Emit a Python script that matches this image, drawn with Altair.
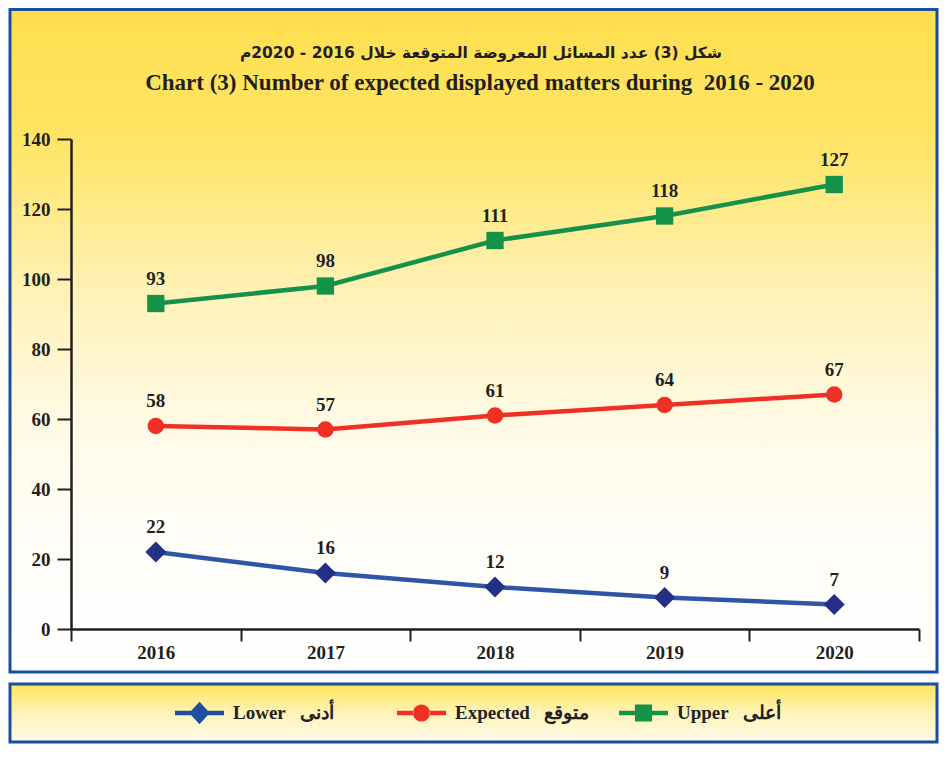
import altair as alt
import pandas as pd

# ---------------- data ----------------
years = ["2016", "2017", "2018", "2019", "2020"]
series = ["Lower", "Expected", "Upper"]
series_ar = ["أدنى", "متوقع", "أعلى"]
lower = [22, 16, 12, 9, 7]
expected = [58, 57, 61, 64, 67]
upper = [93, 98, 111, 118, 127]
y_ticks = [0, 20, 40, 60, 80, 100, 120, 140]

title_ar = "شكل (3) عدد المسائل المعروضة المتوقعة خلال 2016 - 2020م"
title_en = "Chart (3) Number of expected displayed matters during\u00a0\u00a02016 - 2020"

line_colors = ["#2f55a6", "#ee3124", "#14924a"]
marker_colors = ["#243086", "#ee3124", "#14924a"]
legend_colors = ["#1d4f9f", "#ee3124", "#14924a"]
marker_shapes = ["diamond", "circle", "square"]
marker_sizes = [441, 272, 300]

rows = []
for s, vals in zip(series, [lower, expected, upper]):
    for yr, v in zip(years, vals):
        rows.append({"year": yr, "series": s, "value": v})
df = pd.DataFrame(rows)

nb = "\u00a0\u00a0\u00a0"
leg_df = pd.DataFrame({"series": series, "label": [f"{s}{nb}{a}" for s, a in zip(series, series_ar)]})

INK = "#231f20"
SERIF = "Liberation Serif"
W, H = 848, 490

# ---------------- background panels ----------------
main_grad = alt.LinearGradient(
    gradient="linear", x1=0, x2=0, y1=0, y2=1,
    stops=[
        alt.GradientStop(color="#ffdf4e", offset=0),
        alt.GradientStop(color="#ffe566", offset=0.2),
        alt.GradientStop(color="#fff3bf", offset=0.45),
        alt.GradientStop(color="#fffbea", offset=0.65),
        alt.GradientStop(color="#fffefb", offset=0.85),
        alt.GradientStop(color="#ffffff", offset=1),
    ],
)
leg_grad = alt.LinearGradient(
    gradient="linear", x1=0, x2=0, y1=0, y2=1,
    stops=[
        alt.GradientStop(color="#ffe35a", offset=0),
        alt.GradientStop(color="#fff3b8", offset=0.5),
        alt.GradientStop(color="#fffbe8", offset=1),
    ],
)
one = alt.Data(values=[{}])
bg_main = alt.Chart(one).mark_rect(fill=main_grad, stroke="#1b4f9c", strokeWidth=3).encode(
    x=alt.value(-61), x2=alt.value(866), y=alt.value(-129.5), y2=alt.value(533)
)
bg_leg = alt.Chart(one).mark_rect(fill=leg_grad, stroke="#1b4f9c", strokeWidth=3).encode(
    x=alt.value(-61), x2=alt.value(866), y=alt.value(545), y2=alt.value(603)
)

# ---------------- titles ----------------
t_ar = alt.Chart(alt.Data(values=[{"t": "\u202b" + title_ar + "\u202c"}])).mark_text(
    font="DejaVu Sans", fontSize=15.5, fontWeight="bold", color=INK, align="center", baseline="middle"
).encode(text="t:N", x=alt.value(410), y=alt.value(-86))
t_en = alt.Chart(alt.Data(values=[{"t": title_en}])).mark_text(
    font=SERIF, fontSize=23, fontWeight="bold", color=INK, align="center", baseline="middle"
).encode(text="t:N", x=alt.value(409), y=alt.value(-56))

# ---------------- main chart ----------------
x_enc = alt.X(
    "year:N", sort=years,
    scale=alt.Scale(type="band", paddingInner=0, paddingOuter=0),
    axis=alt.Axis(
        title=None, labelAngle=0, tickBand="extent", tickSize=12, tickWidth=2,
        domainWidth=2.5, domainColor=INK, tickColor=INK, labelFont=SERIF,
        labelFontSize=19, labelFontWeight="bold", labelColor=INK, labelPadding=2,
        grid=False, zindex=2,
    ),
)
y_enc = alt.Y(
    "value:Q",
    scale=alt.Scale(domain=[0, 140], nice=False),
    axis=alt.Axis(
        values=y_ticks, title=None, tickSize=14, tickWidth=2, domainWidth=2.5,
        domainColor=INK, tickColor=INK, labelFont=SERIF, labelFontSize=19,
        labelFontWeight="bold", labelColor=INK, labelPadding=7, grid=False, zindex=2,
    ),
)

base = alt.Chart(df)
lines = base.mark_line(strokeWidth=4.5).encode(
    x=x_enc, y=y_enc,
    stroke=alt.Stroke("series:N", scale=alt.Scale(domain=series, range=line_colors), legend=None),
)

marker_layers = []
for s, shp, col, sz in zip(series, marker_shapes, marker_colors, marker_sizes):
    marker_layers.append(
        base.transform_filter(alt.datum.series == s)
        .mark_point(shape=shp, filled=True, fill=col, size=sz, opacity=1, strokeWidth=0)
        .encode(x=x_enc, y=y_enc)
    )

labels = base.mark_text(
    dy=-25, font=SERIF, fontSize=19, fontWeight="bold", color=INK, baseline="middle"
).encode(x=x_enc, y=y_enc, text="value:Q")

main = alt.layer(lines, *marker_layers, labels)

# ---------------- legend (drawn with marks: line-through-marker symbols + labels) ----------------
p_dia = ("M-1,-0.09L-0.3,-0.09L-0.3,0.09L-1,0.09Z M0.3,-0.09L1,-0.09L1,0.09L0.3,0.09Z "
         "M-0.42,0L0,-0.46L0.42,0L0,0.46Z")
p_cir = ("M-1,-0.09L-0.33,-0.09L-0.33,0.09L-1,0.09Z M0.33,-0.09L1,-0.09L1,0.09L0.33,0.09Z "
         "M-0.35,0A0.35,0.35 0 1,0 0.35,0A0.35,0.35 0 1,0 -0.35,0Z")
p_sq = ("M-1,-0.09L-0.35,-0.09L-0.35,0.09L-1,0.09Z M0.35,-0.09L1,-0.09L1,0.09L0.35,0.09Z "
        "M-0.35,-0.35L0.35,-0.35L0.35,0.35L-0.35,0.35Z")

leg_x = alt.X("series:N", sort=series,
              scale=alt.Scale(type="point", domain=series, range=[128.5, 572.5], padding=0),
              axis=None)
leg_sym = alt.Chart(leg_df).mark_point(filled=True, size=2401, opacity=1, strokeWidth=0).encode(
    x=leg_x, y=alt.value(574),
    shape=alt.Shape("series:N", scale=alt.Scale(domain=series, range=[p_dia, p_cir, p_sq]), legend=None),
    fill=alt.Fill("series:N", scale=alt.Scale(domain=series, range=legend_colors), legend=None),
)
leg_txt = alt.Chart(leg_df).mark_text(
    align="left", baseline="middle", dx=33.5, font=SERIF, fontSize=19, fontWeight="bold", color=INK
).encode(x=leg_x, y=alt.value(574), text="label:N")
legend_group = alt.layer(leg_sym, leg_txt)

chart = alt.layer(
    bg_main, bg_leg, t_ar, t_en, main, legend_group
).resolve_scale(x="independent").properties(
    width=W, height=H,
    padding=0,
    background="white",
).configure_view(stroke=None)

chart.save("out.html", embed_options={"renderer": "svg", "actions": False})
